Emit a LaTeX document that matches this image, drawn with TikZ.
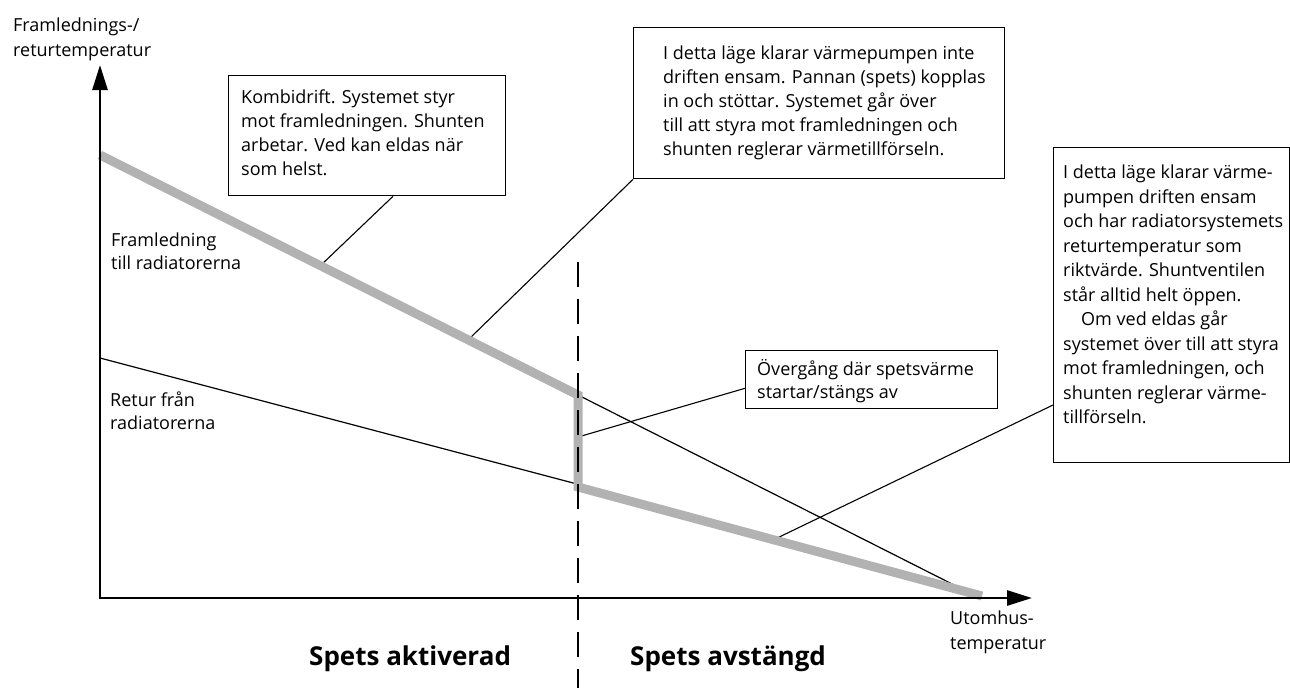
\documentclass[tikz,border=0pt]{standalone}
\usepackage{fontspec}
\setmainfont{Open Sans}
\usetikzlibrary{arrows.meta,calc}
\newcommand{\fl}{\rule{0pt}{14pt}}
\begin{document}
\begin{tikzpicture}[x=1pt,y=-1pt,
  txt/.style={font=\fontsize{18}{24}\selectfont, align=left, inner sep=0pt, anchor=north west},
  boxframe/.style={draw, line width=1.3pt, inner sep=0pt, anchor=north west},
  leader/.style={line width=1.1pt},
  thinline/.style={line width=1.2pt},
  heat/.style={line width=9pt, color=gray!60},
  axis/.style={line width=2.7pt, {Triangle[length=25pt,width=15pt]}-{Triangle[length=25pt,width=15pt]}},
  divider/.style={line width=2.5pt, dash pattern=on 25pt off 12pt},
  big/.style={font=\fontsize{26}{30}\selectfont\bfseries, inner sep=0pt, anchor=base west}
]
\useasboundingbox (0,0) rectangle (1290,688);

% key points
\coordinate (O) at (100,598);
\coordinate (ytip) at (100,65);
\coordinate (xtip) at (1032,598);
\coordinate (s0) at (100,155);
\coordinate (s1) at (578,395);
\coordinate (s2) at (578,487);
\coordinate (s3) at (982,596);
\coordinate (sc) at (960,588);
\coordinate (r0) at (100,358);
\coordinate (r1) at (577,484);
\coordinate (dtop) at (578,262);
\coordinate (dbot) at (578,688);

% boxes
\node[boxframe, minimum width=277pt, minimum height=120pt] (b1) at (228,75) {};
\node[boxframe, minimum width=371pt, minimum height=151pt] (b2) at (633,27) {};
\node[boxframe, minimum width=236pt, minimum height=315pt] (b3) at (1053,147) {};
\node[boxframe, minimum width=252pt, minimum height=58pt] (b4) at (745,350) {};

% box texts
\node[txt] (t1) at (241,89.5) {\fl Kombidrift. Systemet styr\\mot framledningen. Shunten\\arbetar. Ved kan eldas när\\som helst.};
\node[txt] (t2) at (663,45.5) {\fl I detta läge klarar värmepumpen inte\\driften ensam. Pannan (spets) kopplas\\in och stöttar. Systemet går över\\till att styra mot framledningen och\\shunten reglerar värmetillförseln.};
\node[txt, font=\fontsize{18}{24.5}\selectfont] (t3) at (1063,164.5) {\fl I detta läge klarar värme-\\pumpen driften ensam\\och har radiatorsystemets\\returtemperatur som\\riktvärde. Shuntventilen\\står alltid helt öppen.\\\hspace*{1em}Om ved eldas går\\systemet över till att styra\\mot framledningen, och\\shunten reglerar värme-\\tillförseln.};
\node[txt, font=\fontsize{18}{23}\selectfont] (t4) at (757,359.5) {\fl Övergång där spetsvärme\\startar/stängs av};

% other labels
\node[txt, font=\fontsize{18}{25}\selectfont] (ylab) at (13,17.5) {\fl Framlednings-/\\returtemperatur};
\node[txt, font=\fontsize{18}{25}\selectfont] (xlab) at (950,610.5) {\fl Utomhus-\\temperatur};
\node[txt, font=\fontsize{18}{23}\selectfont] (flab) at (111,232.5) {\fl Framledning\\till radiatorerna};
\node[txt, font=\fontsize{18}{23}\selectfont] (rlab) at (110,391.5) {\fl Retur från\\radiatorerna};
\node[big] (act) at (309,665) {Spets aktiverad};
\node[big] (off) at (630,665) {Spets avstängd};

% leaders
\coordinate (e1) at (320,266);
\coordinate (e2) at (468,340);
\coordinate (e3) at (773,540);
\coordinate (e4) at (578,437);
\draw[leader] ($(b1.south west)+(165,0)$) -- (e1);
\draw[leader] (b2.south west) -- (e2);
\draw[leader] ($(b3.north west)+(0,258)$) -- (e3);
\draw[leader] ($(b4.south west)+(0,-21)$) -- (e4);

% thin lines
\draw[thinline] (s1) -- (sc);
\draw[thinline] (r0) -- (r1);

% heat curve
\draw[heat] (s0) -- (s1) -- (s2) -- (s3);

% axes
\draw[axis] (ytip) -- (O) -- (xtip);

% divider
\draw[divider] (dtop) -- (dbot);
\end{tikzpicture}
\end{document}
